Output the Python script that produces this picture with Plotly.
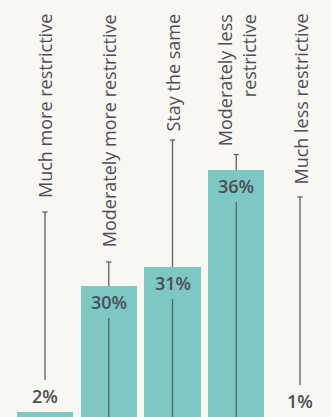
import plotly.graph_objects as go

# Survey answers and their shares (%)
categories = [
    "Much more restrictive",
    "Moderately more restrictive",
    "Stay the same",
    "Moderately less restrictive",
    "Much less restrictive",
]
category_text = [
    "Much more restrictive",
    "Moderately more restrictive",
    "Stay the same",
    "Moderately less<br>restrictive",
    "Much less restrictive",
]
values = [2, 30, 31, 36, 1]

# Styling
W, H = 331, 417
BG = "#f8f7f2"
TEAL = "#7dc8c3"
TEXT = "#4b4e56"
LINE = "#5d6066"
FONT = "Open Sans"

# Leader-line tops (pixels from top of page), just under each rotated label
leader_top_px = [212, 262, 140, 154.5, 197]

# Broken value axis: upper band for the large shares, lower band for the small ones
SPLIT_PX = 400                      # page row where the two bands meet
UP_SCALE, UP_TOP = 19.35, 44.78     # px per %, value at page top
LO_SCALE, LO_BOTTOM = 4.7, 1.0      # px per %, value at page bottom

up_range = [UP_TOP - (SPLIT_PX + 1) / UP_SCALE, UP_TOP]
lo_range = [LO_BOTTOM, LO_BOTTOM + (H - SPLIT_PX + 1) / LO_SCALE]

fig = go.Figure()
for yax in ("y", "y2"):
    fig.add_trace(go.Bar(
        x=list(range(len(categories))), y=values, yaxis=yax,
        marker=dict(color=TEAL, line=dict(width=0)),
        width=0.88, hoverinfo="skip", showlegend=False,
    ))

shapes, annotations = [], []
for i, (txt, v) in enumerate(zip(category_text, values)):
    big = v >= up_range[0]
    y_top = 1 - leader_top_px[i] / H
    # vertical leader line running from the label down through the column
    shapes.append(dict(
        type="line", xref="x", yref="paper", x0=i, x1=i, y0=y_top, y1=0,
        line=dict(color=LINE, width=1.3), layer="above" if big else "below",
    ))
    # small cap at the top of the leader line
    shapes.append(dict(
        type="line", xref="x", yref="paper", xsizemode="pixel", xanchor=i,
        x0=-2.6, x1=2.6, y0=y_top, y1=y_top,
        line=dict(color=LINE, width=1.3), layer="above",
    ))
    # rotated category label
    annotations.append(dict(
        xref="x", yref="paper", x=i, y=1 - 12 / H, xanchor="center", yanchor="top",
        text=txt, textangle=-90, showarrow=False, align="right",
        font=dict(family=FONT, size=18, color=TEXT),
    ))
    # value label: inside the top of large bars, above the small ones
    if big:
        annotations.append(dict(
            xref="x", yref="y", x=i, y=v, xanchor="center", yanchor="top",
            text=f"{v}%", showarrow=False, width=52, height=32, valign="middle",
            bgcolor=TEAL, borderpad=0, borderwidth=0,
            font=dict(family=FONT, size=18, color=TEXT, weight=600),
        ))
    else:
        annotations.append(dict(
            xref="x", yref="y2", x=i, y=v, xanchor="center", yanchor="bottom",
            text=f"{v}%", showarrow=False, width=46, height=32, valign="middle",
            bgcolor=BG, borderpad=0, borderwidth=0,
            font=dict(family=FONT, size=18, color=TEXT, weight=600),
        ))

hidden = dict(visible=False, showgrid=False, zeroline=False, fixedrange=True)
fig.update_layout(
    width=W, height=H,
    margin=dict(l=0, r=0, t=0, b=0, pad=0),
    paper_bgcolor=BG, plot_bgcolor="rgba(0,0,0,0)",
    bargap=0,
    xaxis=dict(hidden, range=[-45 / 63.75, (W - 45) / 63.75]),
    yaxis=dict(hidden, domain=[(H - SPLIT_PX - 1) / H, 1], range=up_range, anchor="x"),
    yaxis2=dict(hidden, domain=[0, (H - SPLIT_PX + 1) / H], range=lo_range, anchor="x"),
    shapes=shapes, annotations=annotations,
)

fig.write_html("out.html")
